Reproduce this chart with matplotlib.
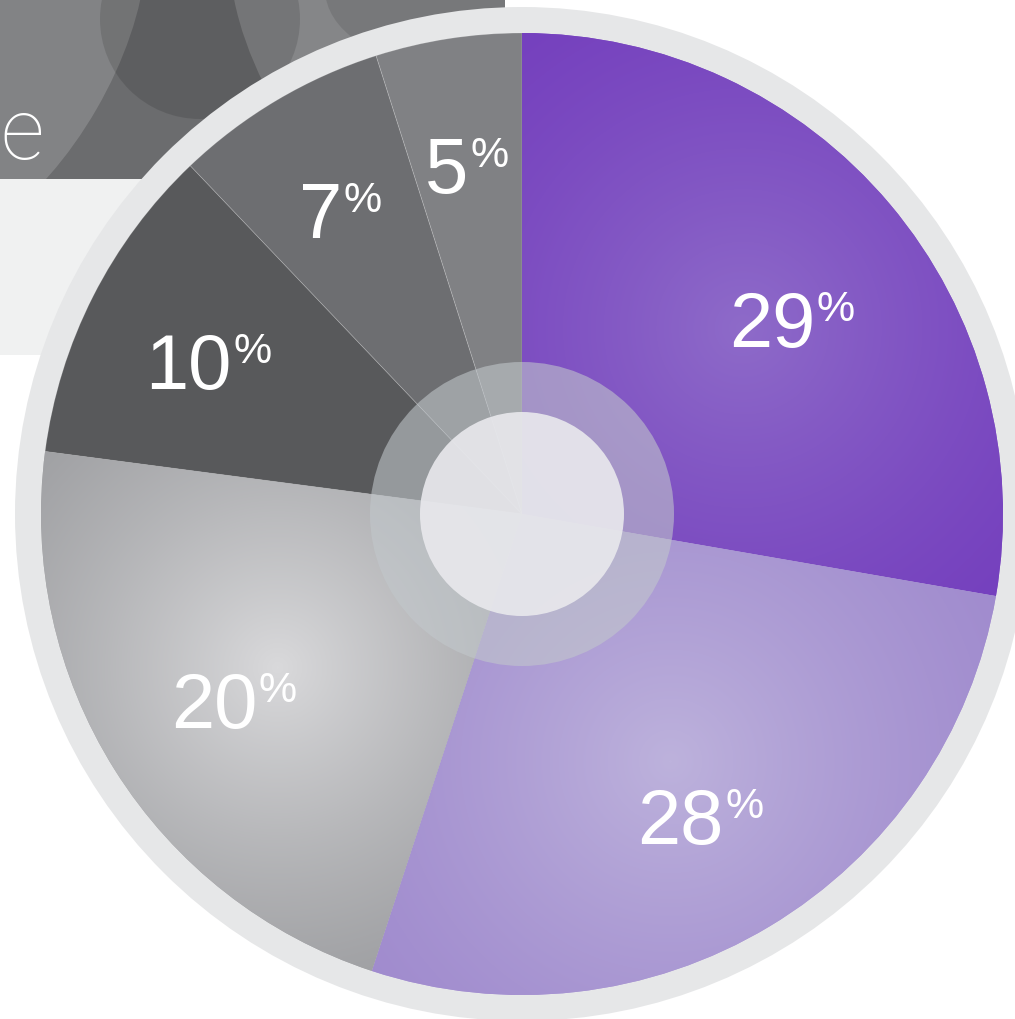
import numpy as np
import matplotlib.pyplot as plt
from matplotlib.patches import Circle, Rectangle, Ellipse
from matplotlib.colors import LinearSegmentedColormap
from matplotlib.offsetbox import TextArea, HPacker, AnnotationBbox

labels = ['29', '28', '20', '10', '7', '5']
shares = [27.7, 27.3, 22.0, 10.8, 7.2, 4.9]
colors = ['#7540be', '#a08bce', '#9a9b9e', '#58595b', '#6d6e71', '#808184']
glow = ['#8e6bc9', '#bdb2dc', '#d9d9db', None, None, None]
# small nudges of each label (pixels) away from the wedge mid line
nudge = [(5, -35), (0, -12), (5, -8), (-5, -10), (-5, 0), (-2, 0)]

W, H = 1015, 1020
cx, cy = 522, H - 515
R = 481

fig = plt.figure(figsize=(W / 100, H / 100), dpi=100)
ax = fig.add_axes([0, 0, 1, 1])

# background panels top-left
ax.add_patch(Rectangle((0, H - 356), 520, 178, color='#f0f1f1', lw=0, zorder=0))
panel = Rectangle((0, H - 180), 505, 180, color='#6b6c6e', lw=0, zorder=0)
ax.add_patch(panel)
for (ex, ey, ew, eh, ang, c, a) in [(10, H - 60, 200, 420, -30, 'white', 0.16),
                                    (420, H - 90, 260, 520, 38, 'white', 0.18),
                                    (200, H - 20, 200, 200, 0, 'black', 0.12),
                                    (440, H + 10, 230, 150, 0, 'black', 0.10)]:
    e = Ellipse((ex, ey), ew, eh, angle=ang, color=c, alpha=a, lw=0, zorder=0)
    ax.add_patch(e)
    e.set_clip_path(panel)
ax.text(44, H - 136, 'e', ha='right', va='center', color='white', fontsize=62,
        family=['Roboto', 'DejaVu Sans'], fontweight='light', zorder=0.5)

# outer ring
ax.add_patch(Circle((cx, cy), 507, color='#e6e7e8', lw=0, zorder=1))

wedges, _ = ax.pie(shares, colors=colors, startangle=90, counterclock=False,
                   center=(cx, cy), radius=R,
                   wedgeprops=dict(linewidth=0.6, edgecolor=(1, 1, 1, 0.2), zorder=2))

xs, ys = np.meshgrid(np.arange(W) + 0.5, np.arange(H) + 0.5)
for w, base, hi in zip(wedges, colors, glow):
    if hi is None:
        continue
    mid = np.deg2rad((w.theta1 + w.theta2) / 2)
    fx, fy = cx + 0.6 * R * np.cos(mid), cy + 0.6 * R * np.sin(mid)
    d = np.hypot(xs - fx, ys - fy)
    t = np.clip(1 - d / (0.8 * R), 0, 1) ** 1.3
    cmap = LinearSegmentedColormap.from_list('g', [base, hi])
    im = ax.imshow(t, cmap=cmap, extent=(0, W, 0, H), origin='lower',
                   interpolation='bilinear', zorder=2.5, vmin=0, vmax=1)
    im.set_clip_path(w)

# translucent hub
ax.add_patch(Circle((cx, cy), 152, color='#c2c8cc', alpha=0.58, lw=0, zorder=4))
ax.add_patch(Circle((cx, cy), 102, color='#e9e9ed', alpha=0.9, lw=0, zorder=5))

# percentage labels
for w, lab, (dx, dy) in zip(wedges, labels, nudge):
    mid = np.deg2rad((w.theta1 + w.theta2) / 2)
    x, y = cx + 0.72 * R * np.cos(mid) + dx, cy + 0.72 * R * np.sin(mid) + dy
    num = TextArea(lab, textprops=dict(size=56, color='white', family='Liberation Sans'))
    pct = TextArea('%', textprops=dict(size=31, color='white', family='Liberation Sans'))
    box = HPacker(children=[num, pct], align='top', pad=0, sep=1)
    ab = AnnotationBbox(box, (x, y), frameon=False, box_alignment=(0.5, 0.5), zorder=6)
    ax.add_artist(ab)

ax.set_xlim(0, W)
ax.set_ylim(0, H)
ax.set_aspect('equal')
ax.axis('off')

fig.savefig('out.png', dpi=100)
